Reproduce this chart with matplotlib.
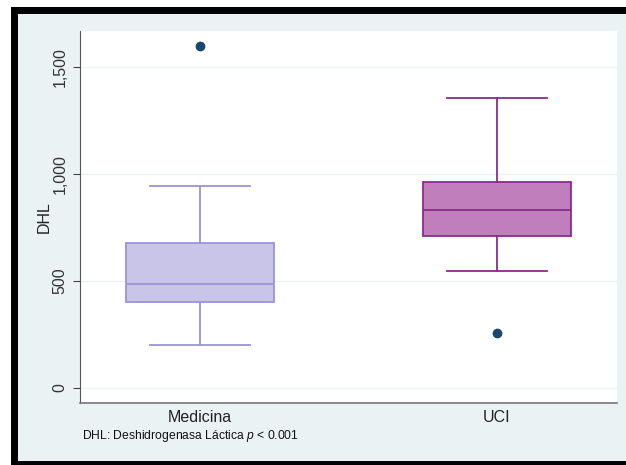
import numpy as np
import matplotlib
matplotlib.use("Agg")
import matplotlib.pyplot as plt
from matplotlib.patches import Rectangle

plt.rcParams["font.family"] = ["Liberation Sans", "DejaVu Sans"]
plt.rcParams["mathtext.fontset"] = "custom"
plt.rcParams["mathtext.it"] = "Liberation Sans:italic"

# box statistics
groups = ["Medicina", "UCI"]
whislo = [200, 548]
q1 = [400, 710]
med = [487, 832]
q3 = [677, 962]
whishi = [943, 1356]
fliers = [[1600], [259]]

yticks = [0, 500, 1000, 1500]
ytick_labels = ["0", "500", "1,000", "1,500"]

fills = ["#c8c5e9", "#c07fbc"]
edges = ["#9a93d7", "#8c2a8c"]
dot = "#1a476f"
bg = "#eaf2f3"

W, H = 626, 465
fig = plt.figure(figsize=(W / 100, H / 100), dpi=100)
fig.patch.set_facecolor("white")

# light panel + black frame (left, top, bottom)
fig.patches.append(Rectangle((11 / W, 0), 1 - 11 / W, 1 - 7 / H, transform=fig.transFigure,
                             facecolor=bg, edgecolor="none", zorder=-3))
fig.patches.append(Rectangle((11 / W, 0), 7 / W, 1 - 7 / H, transform=fig.transFigure,
                             facecolor="black", edgecolor="none", zorder=-2))
fig.patches.append(Rectangle((11 / W, 1 - 14 / H), 1 - 11 / W, 7 / H, transform=fig.transFigure,
                             facecolor="black", edgecolor="none", zorder=-2))
fig.patches.append(Rectangle((11 / W, 0), 1 - 11 / W, 4.5 / H, transform=fig.transFigure,
                             facecolor="black", edgecolor="none", zorder=-2))

x0, x1, y0, y1 = 80, 617, 31, 403
ax = fig.add_axes([x0 / W, 1 - y1 / H, (x1 - x0) / W, (y1 - y0) / H])
ax.set_facecolor("white")

stats = []
for i, g in enumerate(groups):
    stats.append(dict(label=g, whislo=whislo[i], q1=q1[i], med=med[i], q3=q3[i],
                      whishi=whishi[i], fliers=fliers[i]))

pos = np.arange(len(groups))
for i, s in enumerate(stats):
    ax.bxp([s], positions=[pos[i]], widths=0.5, patch_artist=True,
           boxprops=dict(facecolor=fills[i], edgecolor=edges[i], linewidth=1.3),
           medianprops=dict(color=edges[i], linewidth=1.3),
           whiskerprops=dict(color=edges[i], linewidth=1.3),
           capprops=dict(color=edges[i], linewidth=1.3),
           capwidths=0.34,
           flierprops=dict(marker="o", markerfacecolor=dot, markeredgecolor=dot,
                           markersize=6, linestyle="none"))

ax.set_xlim(-0.404, 1.404)
ax.set_ylim(-70, 1669)
ax.set_yticks(yticks)
ax.set_yticklabels(ytick_labels, rotation=90, va="center", fontsize=11.5, color="#333333")
ax.yaxis.grid(True, color=bg, linewidth=1)
ax.set_axisbelow(True)
ax.tick_params(axis="y", direction="out", length=5, color="#444444", pad=4)
ax.tick_params(axis="x", length=0, pad=5, labelsize=11.5)
ax.set_xticks(pos)
ax.set_xticklabels(groups, color="#222222")
ax.set_ylabel("DHL", fontsize=11.5, color="#222222")
ax.yaxis.set_label_coords(-0.052, 0.5)

for sp in ["top", "right"]:
    ax.spines[sp].set_visible(False)
ax.spines["left"].set_color("#555555")
ax.spines["bottom"].set_color("#777777")
ax.spines["bottom"].set_linewidth(1.2)

fig.text(82 / W, 1 - 436 / H, "DHL: Deshidrogenasa Láctica $p$ < 0.001",
         fontsize=8.7, va="center", ha="left", color="#111111")

fig.savefig("out.png", dpi=100)
